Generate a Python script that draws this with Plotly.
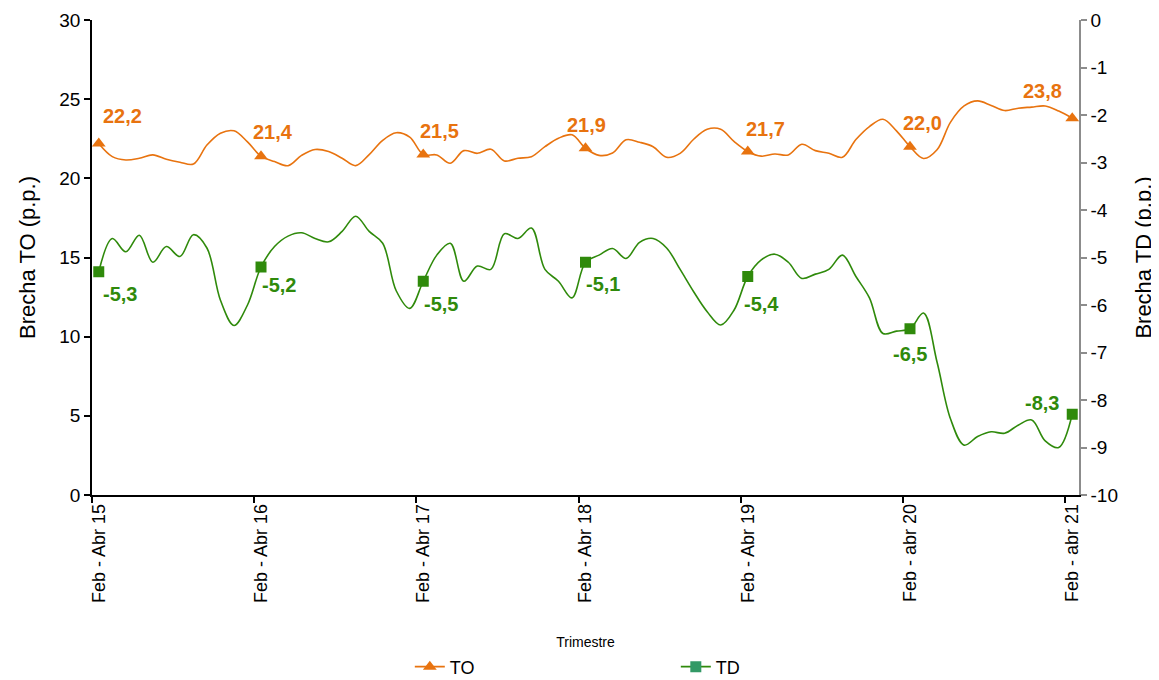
import plotly.graph_objects as go

# Monthly moving-quarter values, Feb-Abr 2015 .. Feb-abr 2021
TO = [22.2, 21.37, 21.16, 21.27, 21.48, 21.2, 21.02, 20.9, 22.1, 22.85, 23.0, 22.3,
      21.4, 21.06, 20.8, 21.45, 21.82, 21.69, 21.27, 20.8, 21.5, 22.4, 22.88, 22.6,
      21.5, 21.48, 20.95, 21.75, 21.58, 21.84, 21.1, 21.27, 21.37, 22.0, 22.53, 22.75,
      21.9, 21.45, 21.6, 22.43, 22.28, 22.0, 21.33, 21.58, 22.47, 23.1, 23.1, 22.32,
      21.7, 21.4, 21.54, 21.48, 22.15, 21.75, 21.58, 21.33, 22.45, 23.27, 23.73, 23.0,
      22.0, 21.25, 21.8, 23.55, 24.57, 24.89, 24.6, 24.28, 24.43, 24.5, 24.57, 24.25,
      23.8]
TD = [-5.3, -4.6, -4.88, -4.53, -5.1, -4.77, -4.98, -4.52, -4.8, -5.9, -6.43, -6.0,
      -5.2, -4.77, -4.55, -4.48, -4.6, -4.67, -4.45, -4.13, -4.45, -4.7, -5.7, -6.07,
      -5.5, -4.95, -4.7, -5.5, -5.18, -5.25, -4.5, -4.6, -4.38, -5.25, -5.5, -5.85,
      -5.1, -4.95, -4.81, -5.02, -4.68, -4.6, -4.8, -5.25, -5.72, -6.14, -6.42, -6.1,
      -5.4, -5.05, -4.93, -5.1, -5.44, -5.35, -5.25, -4.95, -5.4, -5.85, -6.6, -6.55,
      -6.5, -6.17, -7.2, -8.4, -8.95, -8.77, -8.67, -8.7, -8.53, -8.42, -8.86, -9.0,
      -8.3]

tick_idx = [0, 12, 24, 36, 48, 60, 72]
tick_labels = ["Feb - Abr 15", "Feb - Abr 16", "Feb - Abr 17", "Feb - Abr 18",
               "Feb - Abr 19", "Feb - abr 20", "Feb - abr 21"]
TO_year = [22.2, 21.4, 21.5, 21.9, 21.7, 22.0, 23.8]
TD_year = [-5.3, -5.2, -5.5, -5.1, -5.4, -6.5, -8.3]

right_ticks = [0, -1, -2, -3, -4, -5, -6, -7, -8, -9, -10]
left_ticks = [0, 5, 10, 15, 20, 25, 30]

# label offsets (style only), px: (dx, dy down)
TO_off = [(24, -28), (12, -24), (16, -24), (1, -23), (18, -22), (13, -24), (-30, -27)]
TD_off = [(21, 22), (18, 18), (18, 23), (17, 22), (14, 27), (0, 25), (-30, -11)]

ORANGE = "#E8730F"
GREEN = "#2F8A0B"
GREEN_LEG = "#339966"
FONT = "Arial, Liberation Sans, sans-serif"

x = list(range(len(TO)))

fig = go.Figure()
fig.add_trace(go.Scatter(x=x, y=TO, mode="lines", line=dict(color=ORANGE, width=1.6, shape="spline", smoothing=1),
                         showlegend=False, hoverinfo="skip"))
fig.add_trace(go.Scatter(x=tick_idx, y=[TO[i] for i in tick_idx], mode="markers",
                         marker=dict(symbol="triangle-up", size=12, color=ORANGE), showlegend=False))
fig.add_trace(go.Scatter(x=x, y=TD, yaxis="y2", mode="lines",
                         line=dict(color=GREEN, width=1.6, shape="spline", smoothing=1),
                         showlegend=False, hoverinfo="skip"))
fig.add_trace(go.Scatter(x=tick_idx, y=[TD[i] for i in tick_idx], yaxis="y2", mode="markers",
                         marker=dict(symbol="square", size=11, color=GREEN), showlegend=False))
# legend entries
fig.add_trace(go.Scatter(x=[None], y=[None], mode="lines+markers", name="TO",
                         line=dict(color=ORANGE, width=1.6),
                         marker=dict(symbol="triangle-up", size=12, color=ORANGE)))
fig.add_trace(go.Scatter(x=[None], y=[None], mode="lines+markers", name="TD",
                         line=dict(color=GREEN, width=1.6),
                         marker=dict(symbol="square", size=11, color=GREEN_LEG)))

ann = []
for k, i in enumerate(tick_idx):
    dx, dy = TO_off[k]
    ann.append(dict(x=i, y=TO[i], xref="x", yref="y", text=f"{TO_year[k]:.1f}".replace(".", ","),
                    showarrow=False, xshift=dx, yshift=-dy,
                    font=dict(family=FONT, size=20, color=ORANGE, weight="bold")))
    dx, dy = TD_off[k]
    ann.append(dict(x=i, y=TD[i], xref="x", yref="y2", text=f"{TD_year[k]:.1f}".replace(".", ","),
                    showarrow=False, xshift=dx, yshift=-dy,
                    font=dict(family=FONT, size=20, color=GREEN, weight="bold")))

fig.update_layout(
    width=1159, height=680,
    margin=dict(l=84, r=88, t=12, b=193, autoexpand=False),
    paper_bgcolor="white", plot_bgcolor="white",
    font=dict(family=FONT, color="black", size=18),
    annotations=ann,
    xaxis=dict(range=[-0.5, len(TO) - 0.5], tickmode="array", tickvals=tick_idx, ticktext=tick_labels,
               tickangle=-90, tickfont=dict(size=18), ticks="", showgrid=False, zeroline=False,
               showline=True, linecolor="black", linewidth=1.5, automargin=False,
               minor=dict(tickmode="linear", tick0=-0.5, dtick=12, ticks="outside", ticklen=6,
                          tickcolor="black", tickwidth=1.5, showgrid=False),
               title=dict(text="Trimestre", font=dict(size=14), standoff=35)),
    yaxis=dict(range=[0, 30], tickmode="array", tickvals=left_ticks, ticktext=[str(v) for v in left_ticks],
               ticks="outside", ticklen=6, tickwidth=1.5, tickcolor="black", automargin=False,
               showline=True, linecolor="black", linewidth=1.5, showgrid=False, zeroline=False,
               tickfont=dict(size=19),
               title=dict(text="Brecha TO (p.p.)", font=dict(size=22), standoff=18)),
    yaxis2=dict(range=[-10, 0], overlaying="y", side="right", tickmode="array", tickvals=right_ticks,
                ticktext=[str(v) for v in right_ticks], ticks="outside", ticklen=6, tickwidth=1.5,
                tickcolor="#8c8c8c", showline=True, linecolor="#8c8c8c", linewidth=1.5, automargin=False,
                showgrid=False, zeroline=False, tickfont=dict(size=19),
                title=dict(text="Brecha TD (p.p.)", font=dict(size=22), standoff=19)),
    legend=dict(orientation="h", x=0.322, xanchor="left", y=-0.362, yanchor="middle",
                font=dict(size=18), entrywidth=221, entrywidthmode="pixels", bgcolor="rgba(0,0,0,0)"),
)

fig.write_html("out.html")
